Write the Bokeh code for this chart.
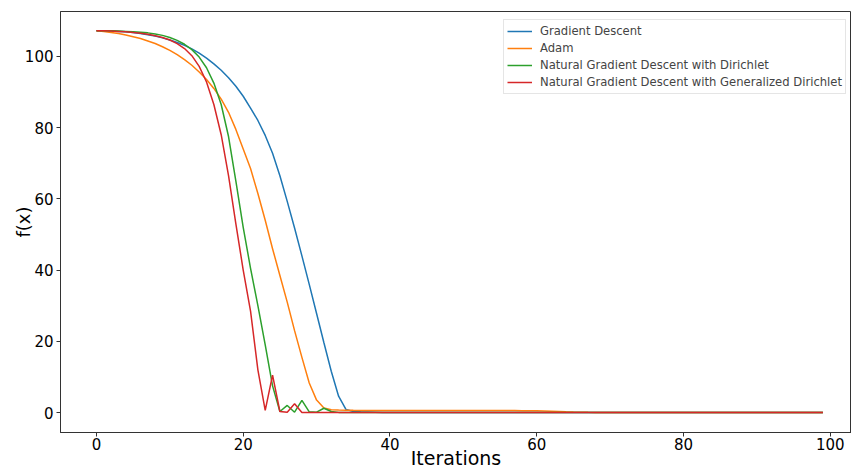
from bokeh.plotting import figure
from bokeh.models import Range1d, FixedTicker, Legend, LegendItem
from bokeh.embed import file_html
from bokeh.resources import INLINE

iterations = list(range(100))

gradient_descent = [
    107.2, 107.2, 107.1, 107.0, 106.9, 106.7, 106.4, 106.1, 105.7, 105.2,
    104.6, 103.9, 103.1, 102.1, 100.9, 99.5, 97.9, 96.1, 94.0, 91.6,
    88.8, 85.5, 82.0, 77.8, 72.8, 66.5, 59.3, 51.8, 44.0, 36.0,
    27.8, 19.6, 11.6, 4.6, 0.9, 0.3, 0.2, 0.15, 0.1, 0.05,
    0.03, 0.03, 0.03, 0.03, 0.03, 0.03, 0.03, 0.03, 0.03, 0.03,
    0.03, 0.03, 0.03, 0.03, 0.03, 0.03, 0.03, 0.03, 0.03, 0.03,
    0.02, 0.02, 0.02, 0.02, 0.02, 0.02, 0.02, 0.01, 0.01, 0.0,
    0.0, 0.0, 0.0, 0.0, 0.0, 0.0, 0.0, 0.0, 0.0, 0.0,
    0.0, 0.0, 0.0, 0.0, 0.0, 0.0, 0.0, 0.0, 0.0, 0.0,
    0.0, 0.0, 0.0, 0.0, 0.0, 0.0, 0.0, 0.0, 0.0, 0.0,
]

adam = [
    107.2, 107.0, 106.7, 106.4, 106.0, 105.5, 105.0, 104.3, 103.6, 102.7,
    101.7, 100.5, 99.1, 97.5, 95.6, 93.5, 91.0, 88.0, 84.3, 79.5,
    74.0, 68.5, 61.5, 54.0, 46.0, 38.5, 31.0, 23.0, 15.5, 8.3,
    3.5, 1.3, 0.8, 0.7, 0.65, 0.62, 0.6, 0.6, 0.6, 0.6,
    0.6, 0.6, 0.6, 0.6, 0.6, 0.6, 0.6, 0.6, 0.6, 0.6,
    0.58, 0.58, 0.58, 0.57, 0.57, 0.56, 0.56, 0.55, 0.54, 0.52,
    0.5, 0.45, 0.4, 0.33, 0.25, 0.18, 0.12, 0.07, 0.03, 0.01,
    0.0, 0.0, 0.0, 0.0, 0.0, 0.0, 0.0, 0.0, 0.0, 0.0,
    0.0, 0.0, 0.0, 0.0, 0.0, 0.0, 0.0, 0.0, 0.0, 0.0,
    0.0, 0.0, 0.0, 0.0, 0.0, 0.0, 0.0, 0.0, 0.0, 0.0,
]

ngd_dirichlet = [
    107.2, 107.2, 107.2, 107.1, 107.0, 106.9, 106.8, 106.6, 106.3, 105.9,
    105.3, 104.5, 103.4, 101.9, 99.8, 96.8, 92.5, 86.5, 77.5, 65.0,
    52.0, 40.5, 30.0, 19.0, 7.5, 0.3, 2.0, 0.1, 3.4, 0.2,
    0.1, 1.2, 0.3, 0.05, 0.0, 0.0, 0.0, 0.0, 0.0, 0.0,
    0.0, 0.0, 0.0, 0.0, 0.0, 0.0, 0.0, 0.0, 0.0, 0.0,
    0.0, 0.0, 0.0, 0.0, 0.0, 0.0, 0.0, 0.0, 0.0, 0.0,
    0.0, 0.0, 0.0, 0.0, 0.0, 0.0, 0.0, 0.0, 0.0, 0.0,
    0.0, 0.0, 0.0, 0.0, 0.0, 0.0, 0.0, 0.0, 0.0, 0.0,
    0.0, 0.0, 0.0, 0.0, 0.0, 0.0, 0.0, 0.0, 0.0, 0.0,
    0.0, 0.0, 0.0, 0.0, 0.0, 0.0, 0.0, 0.0, 0.0, 0.0,
]

ngd_generalized = [
    107.2, 107.2, 107.1, 107.0, 106.9, 106.7, 106.5, 106.2, 105.8, 105.3,
    104.6, 103.6, 102.2, 100.2, 97.2, 92.8, 86.5, 78.0, 66.5, 53.0,
    40.0, 28.5, 12.0, 0.6, 10.5, 0.3, 0.1, 2.5, 0.0, 0.0,
    0.0, 0.0, 0.0, 0.0, 0.0, 0.0, 0.0, 0.0, 0.0, 0.0,
    0.0, 0.0, 0.0, 0.0, 0.0, 0.0, 0.0, 0.0, 0.0, 0.0,
    0.0, 0.0, 0.0, 0.0, 0.0, 0.0, 0.0, 0.0, 0.0, 0.0,
    0.0, 0.0, 0.0, 0.0, 0.0, 0.0, 0.0, 0.0, 0.0, 0.0,
    0.0, 0.0, 0.0, 0.0, 0.0, 0.0, 0.0, 0.0, 0.0, 0.0,
    0.0, 0.0, 0.0, 0.0, 0.0, 0.0, 0.0, 0.0, 0.0, 0.0,
    0.0, 0.0, 0.0, 0.0, 0.0, 0.0, 0.0, 0.0, 0.0, 0.0,
]

series_names = [
    "Gradient Descent",
    "Adam",
    "Natural Gradient Descent with Dirichlet",
    "Natural Gradient Descent with Generalized Dirichlet",
]
series_values = [gradient_descent, adam, ngd_dirichlet, ngd_generalized]
series_colors = ["#1f77b4", "#ff7f0e", "#2ca02c", "#d62728"]
x_ticks = [0, 20, 40, 60, 80, 100]
y_ticks = [0, 20, 40, 60, 80, 100]

FONT = "DejaVu Sans"

p = figure(
    width=851, height=471,
    output_backend="svg", toolbar_location=None,
    x_range=Range1d(-4.9, 102.9), y_range=Range1d(-5.6, 112.6),
    min_border_left=60, min_border_right=0, min_border_top=11, min_border_bottom=39,
)
p.background_fill_color = "white"
p.border_fill_color = "white"
p.outline_line_color = "#333333"
p.outline_line_width = 1
p.grid.visible = False

for ax, ticks in ((p.xaxis[0], x_ticks), (p.yaxis[0], y_ticks)):
    ax.ticker = FixedTicker(ticks=ticks)
    ax.minor_tick_line_color = None
    ax.major_tick_in = 0
    ax.major_tick_out = 4
    ax.axis_line_color = "#333333"
    ax.major_tick_line_color = "#333333"
    ax.major_label_text_font = FONT
    ax.major_label_text_font_size = "15px"
    ax.major_label_text_color = "black"
    ax.axis_label_text_font = FONT
    ax.axis_label_text_font_style = "normal"
    ax.axis_label_text_color = "black"

p.xaxis.axis_label = "Iterations"
p.xaxis.axis_label_text_font_size = "19px"
p.xaxis.major_label_standoff = 1
p.xaxis.axis_label_standoff = -6
p.yaxis.axis_label = "f(x)"
p.yaxis.axis_label_text_font_size = "18px"
p.yaxis.major_label_standoff = 3
p.yaxis.axis_label_standoff = -12

items = []
for name, vals, col in zip(series_names, series_values, series_colors):
    r = p.line(iterations, vals, line_color=col, line_width=1.5)
    items.append(LegendItem(label=name, renderers=[r]))

legend = Legend(items=items)
legend.label_text_font = FONT
legend.label_text_font_size = "11.6px"
legend.label_height = 16
legend.glyph_height = 16
legend.glyph_width = 25
legend.label_standoff = 8
legend.spacing = 1
legend.padding = 3
legend.margin = 0
legend.border_line_color = "#cccccc"
legend.border_line_width = 1
legend.background_fill_color = "white"
legend.background_fill_alpha = 0.8
legend.location = (443, 338)
p.add_layout(legend, "center")

open("out.html", "w").write(file_html(p, INLINE))
